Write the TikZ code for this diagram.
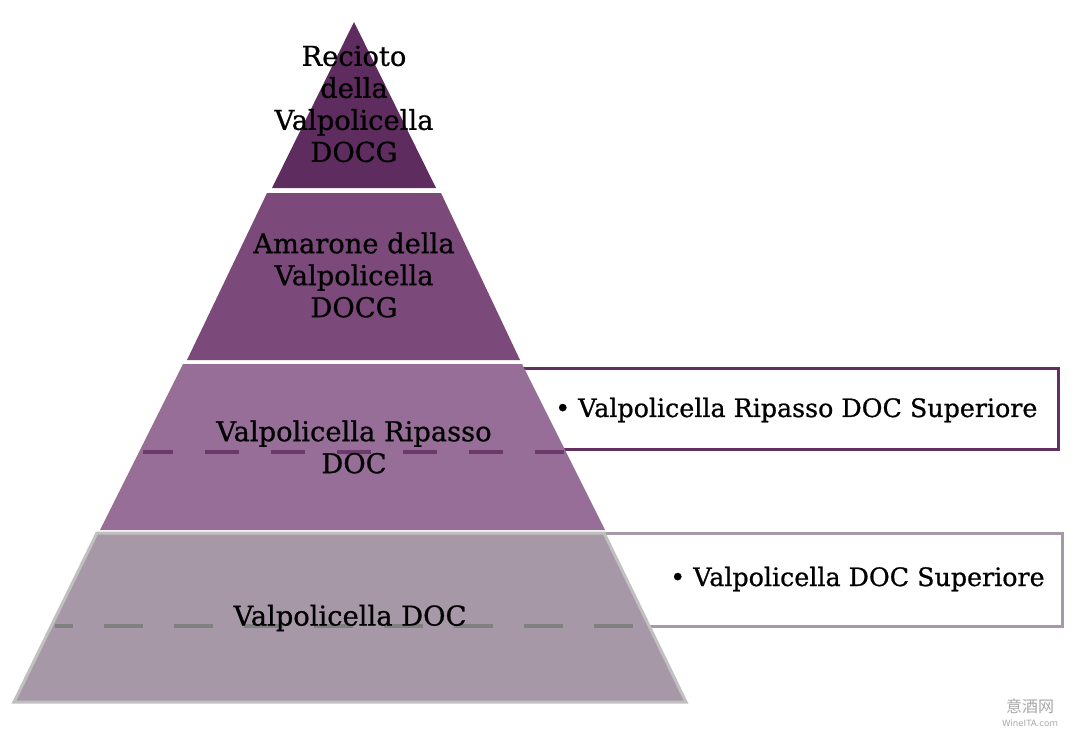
\documentclass[tikz,border=0pt]{standalone}
\usepackage{fontspec}
\setmainfont{DejaVu Serif}[UprightFeatures={FakeBold=0.8}]
\newfontfamily\cjkfont{Noto Sans CJK SC}
\newfontfamily\wmfont{DejaVu Sans}
\definecolor{lay1}{HTML}{5E2C5E}
\definecolor{lay2}{HTML}{7B4A7B}
\definecolor{lay3}{HTML}{976E97}
\definecolor{lay4}{HTML}{A798A7}
\definecolor{edge4}{HTML}{C0C0C0}
\definecolor{dash3}{HTML}{6B3A6B}
\definecolor{dash4}{HTML}{808080}
\definecolor{box1}{HTML}{603060}
\definecolor{box2}{HTML}{A798A7}
\definecolor{wm}{HTML}{A8A8A8}
\tikzset{
  lbl/.style={align=center, text=black, font=\fontsize{20.5}{24}\selectfont, inner sep=0pt},
  sidebox/.style={draw, line width=2.25pt, fill=white},
  sidetxt/.style={anchor=west, text=black, font=\fontsize{19}{24}\selectfont, inner sep=0pt},
}
\begin{document}
\begin{tikzpicture}[x=0.75pt, y=-0.75pt]
\useasboundingbox (0,0) rectangle (1080,740);
% side boxes (behind pyramid)
\draw[sidebox, draw=box1] (400,368) rectangle (1058,449);
\draw[sidebox, draw=box2] (400,533) rectangle (1062,626);
% pyramid layers
\fill[lay1] (354,22) -- (436,188) -- (272,188) -- cycle;
\fill[lay2] (267,193) -- (441,193) -- (520,360) -- (187,360) -- cycle;
\fill[lay3] (183,364) -- (522,364) -- (605,530) -- (100,530) -- cycle;
\draw[fill=lay4, draw=edge4, line width=2.25pt, line join=miter] (97,533) -- (604,533) -- (686,702) -- (14,702) -- cycle;
% dashed lines
\draw[dash3, line width=2.6pt, dash pattern=on 25.5pt off 24pt, dash phase=3pt] (143,452) -- (564,452);
\draw[dash4, line width=2.6pt, dash pattern=on 29pt off 23.5pt, dash phase=15.5pt] (55,626) -- (645,626);
% labels
\node[lbl] (t1) at (354,104) {Recioto\\della\\Valpolicella\\DOCG};
\node[lbl] (t2) at (354,275) {Amarone della\\Valpolicella\\DOCG};
\node[lbl] (t3) at (354,447) {Valpolicella Ripasso\\DOC};
\node[lbl] (t4) at (350,618) {Valpolicella DOC};
\node[sidetxt] (s1) at (555,410) {\textbullet\ Valpolicella Ripasso DOC Superiore};
\node[sidetxt] (s2) at (670,579) {\textbullet\ Valpolicella DOC Superiore};
% watermark
\node[text=wm, font=\cjkfont\fontsize{12}{14}\selectfont, inner sep=0pt] (w1) at (1030,706) {意酒网};
\node[text=wm, font=\wmfont\fontsize{6.5}{8}\selectfont, inner sep=0pt] (w2) at (1030,723) {WineITA.com};
\end{tikzpicture}
\end{document}
